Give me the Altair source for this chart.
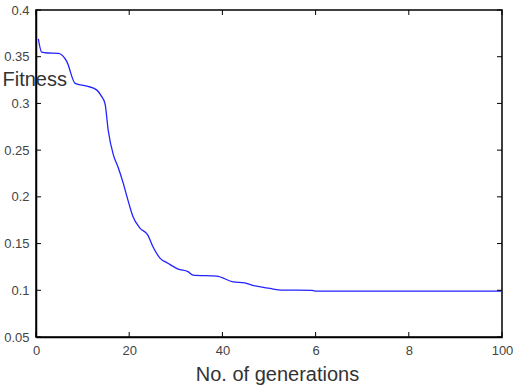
import altair as alt
import pandas as pd

# Best fitness per generation
generations = [0.5, 1.2, 2.5, 4.8, 6.6, 8.4, 10.9, 13.0, 14.0, 14.8, 15.5, 16.6, 17.6,
               18.7, 19.7, 20.8, 22.3, 24.0, 25.1, 26.6, 28.3, 30.5, 32.6, 33.7, 38.8,
               42.3, 44.8, 46.3, 50.2, 52.7, 59.2, 59.9, 100]
fitness = [0.369, 0.355, 0.354, 0.3536, 0.345, 0.3215, 0.3186, 0.3145, 0.308, 0.300,
           0.271, 0.245, 0.232, 0.215, 0.197, 0.179, 0.1666, 0.159, 0.1466, 0.1345,
           0.129, 0.1227, 0.120, 0.1163, 0.1152, 0.109, 0.108, 0.1056, 0.102, 0.1002,
           0.100, 0.0991, 0.0991]

x_ticks = [0, 20, 40, 60, 80, 100]
y_ticks = [0.05, 0.1, 0.15, 0.2, 0.25, 0.3, 0.35, 0.4]

W, H = 466, 327
FONT = "Liberation Sans"

df = pd.DataFrame({"gen": generations, "fit": fitness})
xt = pd.DataFrame({"gen": x_ticks})
yt = pd.DataFrame({"fit": y_ticks})

xscale = alt.Scale(domain=[0, 100], nice=False, zero=False)
yscale = alt.Scale(domain=[0.05, 0.4], nice=False, zero=False)

xaxis = alt.Axis(values=x_ticks, title="No. of generations", grid=False,
                 ticks=False, labelPadding=7, labelFlush=False, labelBound=False,
                 labelOverlap=False,
                 labelExpr="datum.value == 60 ? '6' : datum.value == 80 ? '8' : datum.label",
                 titleX=241, titleY=43, titleBaseline="alphabetic",
                 titleAnchor="start", titleAlign="center")
yaxis = alt.Axis(values=y_ticks, format=".2~f", title="Fitness", grid=False,
                 ticks=False, labelPadding=7, titleAngle=0, titleAlign="left",
                 titleBaseline="alphabetic", titleX=-34, titleY=75,
                 labelFlush=False, labelOverlap=False)

X = alt.X("gen:Q", scale=xscale, axis=xaxis)
Y = alt.Y("fit:Q", scale=yscale, axis=yaxis)

line = alt.Chart(df).mark_line(color="#2222ff", strokeWidth=1.3,
                               interpolate="monotone").encode(x=X, y=Y)

# inward tick marks on all four sides of the frame
tick_style = dict(color="black", strokeWidth=1)
bottom_ticks = alt.Chart(xt).mark_rule(**tick_style).encode(
    x=X, y=alt.value(H), y2=alt.value(H - 5))
top_ticks = alt.Chart(xt).mark_rule(**tick_style).encode(
    x=X, y=alt.value(0), y2=alt.value(5))
left_ticks = alt.Chart(yt).mark_rule(**tick_style).encode(
    y=Y, x=alt.value(0), x2=alt.value(5))
right_ticks = alt.Chart(yt).mark_rule(**tick_style).encode(
    y=Y, x=alt.value(W), x2=alt.value(W - 5))

chart = alt.layer(line, bottom_ticks, top_ticks, left_ticks, right_ticks).properties(
    width=W, height=H,
    autosize=alt.AutoSizeParams(type="none"),
    padding={"left": 36, "top": 10, "right": 13, "bottom": 51},
    background="white",
).configure_view(
    stroke="black", strokeWidth=1.5
).configure_axis(
    domainColor="black", domainWidth=1.5,
    labelFont=FONT, labelFontSize=13, labelColor="#444444",
    titleFont=FONT, titleFontSize=20, titleFontWeight="normal", titleColor="#333333",
)

chart.save("out.html", embed_options={"renderer": "svg", "actions": False})
